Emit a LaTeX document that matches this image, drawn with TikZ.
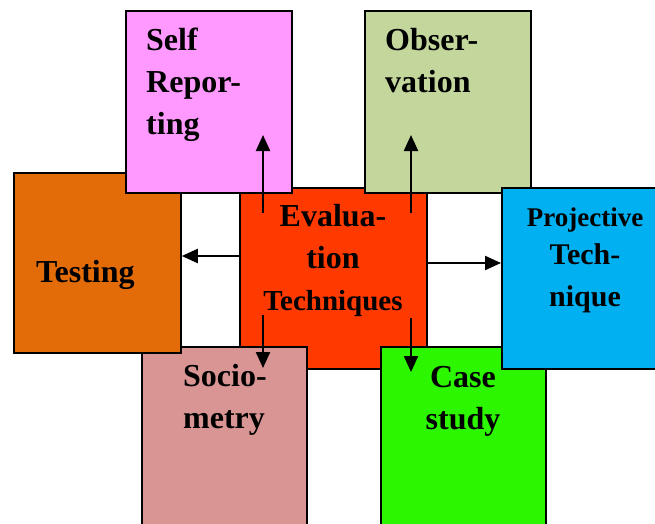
\documentclass[tikz,border=0pt]{standalone}
\usepackage{fontspec}
\setmainfont{Liberation Serif}
\usetikzlibrary{arrows.meta}

\definecolor{selfpink}{HTML}{FF99FF}
\definecolor{obsgreen}{HTML}{C3D69B}
\definecolor{evalred}{HTML}{FF3A00}
\definecolor{testorange}{HTML}{E36C09}
\definecolor{projblue}{HTML}{00B0F0}
\definecolor{sociorose}{HTML}{D99594}
\definecolor{casegreen}{HTML}{2CF700}

\tikzset{
  box/.style={rectangle, draw=black, line width=1.8pt, inner sep=0pt, anchor=north west},
  txt/.style={font=\bfseries\fontsize{32}{42}\selectfont, inner sep=0pt},
  arr/.style={-{Triangle[length=16pt,width=14pt]}, line width=2.2pt}
}

\begin{document}
\begin{tikzpicture}[x=1pt, y=-1pt]
   \useasboundingbox (0,0) rectangle (655,524);
   % boxes
   \node[box, fill=evalred, minimum width=187pt, minimum height=181pt] (eval) at (239,187) {};
   \node[box, fill=sociorose, minimum width=165pt, minimum height=200pt] (socio) at (141,346) {};
   \node[box, fill=casegreen, minimum width=165pt, minimum height=200pt] (case) at (380,346) {};
   \node[box, fill=testorange, minimum width=167pt, minimum height=180pt] (test) at (13,172) {};
   \node[box, fill=selfpink, minimum width=166pt, minimum height=182pt] (self) at (125,10) {};
   \node[box, fill=obsgreen, minimum width=166pt, minimum height=182pt] (obs) at (364,10) {};
   \node[box, fill=projblue, minimum width=165pt, minimum height=181pt] (proj) at (501,187) {};

   % texts (base = last line)
   \node[txt, align=left, anchor=base west] (selftxt) at (146,135) {Self\\Repor-\\ting};
   \node[txt, align=left, anchor=base west] (obstxt) at (385,93) {Obser-\\vation};
   \node[txt, align=center, anchor=base] (evaltxt) at (333,310)
      {Evalua-\\tion\\{\fontsize{29}{42}\selectfont Techniques}};
   \node[txt, anchor=base west] (testtxt) at (36,282) {Testing};
   \node[txt, align=center, anchor=base, font=\bfseries\fontsize{30}{42}\selectfont] (projtxt) at (585,306)
      {{\fontsize{27}{38}\selectfont Projective}\\[-4pt]Tech-\\nique};
   \node[txt, align=left, anchor=base west] (sociotxt) at (183,428) {Socio-\\metry};
   \node[txt, align=center, anchor=base] (casetxt) at (463,429) {Case\\study};

   % arrow ends
   \coordinate (upl) at (263,213);
   \coordinate (upr) at (411,213);
   \coordinate (selftip) at (263,135);
   \coordinate (obstip) at (411,135);
   \coordinate (dnl) at (263,315);
   \coordinate (dnr) at (411,318);
   \coordinate (sociotip) at (263,368);
   \coordinate (casetip) at (411,372);
   \coordinate (lrow) at (0,256);
   \coordinate (rrow) at (0,263);

   \draw[arr] (upl) -- (selftip);
   \draw[arr] (upr) -- (obstip);
   \draw[arr] (dnl) -- (sociotip);
   \draw[arr] (dnr) -- (casetip);
   \draw[arr] (eval.west |- lrow) -- (test.east |- lrow);
   \draw[arr] (eval.east |- rrow) -- (proj.west |- rrow);
\end{tikzpicture}
\end{document}
